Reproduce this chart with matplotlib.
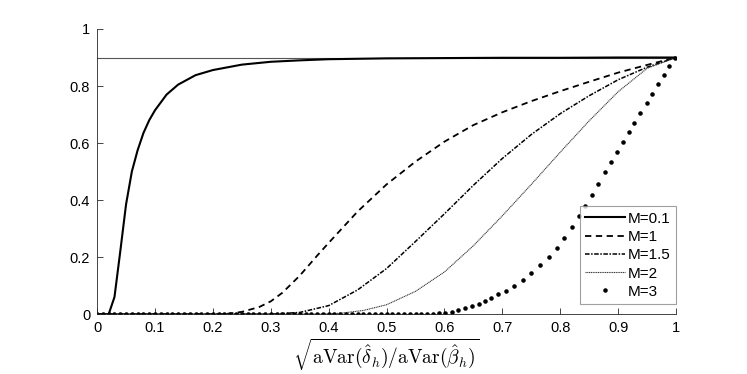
import numpy as np
import matplotlib.pyplot as plt

plt.rcParams['font.family'] = ['Liberation Sans', 'DejaVu Sans']
plt.rcParams['mathtext.fontset'] = 'cm'

# values
x_m01 = [0, 0.01, 0.02, 0.03, 0.04, 0.05, 0.06, 0.07, 0.08, 0.09, 0.10, 0.12, 0.14, 0.17,
         0.20, 0.25, 0.30, 0.35, 0.40, 0.50, 0.60, 0.70, 0.80, 0.90, 1.00]
y_m01 = [0, 0, 0, 0.06, 0.22, 0.385, 0.50, 0.575, 0.635, 0.68, 0.715, 0.77, 0.805, 0.838,
         0.856, 0.875, 0.885, 0.89, 0.894, 0.897, 0.898, 0.899, 0.899, 0.9, 0.9]

x_m1 = [0, 0.22, 0.25, 0.28, 0.30, 0.32, 0.35, 0.38, 0.40, 0.45, 0.50, 0.55, 0.60, 0.65,
        0.70, 0.75, 0.80, 0.85, 0.90, 0.95, 1.00]
y_m1 = [0, 0, 0.008, 0.025, 0.045, 0.075, 0.135, 0.205, 0.25, 0.36, 0.455, 0.535, 0.605,
        0.663, 0.708, 0.747, 0.782, 0.815, 0.847, 0.874, 0.9]

x_m15 = [0, 0.30, 0.35, 0.40, 0.45, 0.50, 0.55, 0.60, 0.65, 0.70, 0.75, 0.80, 0.85,
         0.90, 0.95, 1.00]
y_m15 = [0, 0, 0.006, 0.03, 0.085, 0.16, 0.255, 0.352, 0.452, 0.546, 0.63, 0.703, 0.766,
         0.822, 0.866, 0.9]

x_m2 = [0, 0.38, 0.42, 0.46, 0.50, 0.55, 0.60, 0.65, 0.70, 0.75, 0.80, 0.85, 0.90,
        0.95, 1.00]
y_m2 = [0, 0, 0.003, 0.013, 0.033, 0.08, 0.148, 0.24, 0.345, 0.455, 0.568, 0.678, 0.78,
        0.862, 0.9]

x_m3 = [0.00, 0.01, 0.02, 0.03, 0.04, 0.05, 0.06, 0.07, 0.08, 0.09,
        0.10, 0.11, 0.12, 0.13, 0.14, 0.15, 0.16, 0.17, 0.18, 0.19,
        0.20, 0.21, 0.22, 0.23, 0.24, 0.25, 0.26, 0.27, 0.28, 0.29,
        0.30, 0.31, 0.32, 0.33, 0.34, 0.35, 0.36, 0.37, 0.38, 0.39,
        0.40, 0.41, 0.42, 0.43, 0.44, 0.45, 0.46, 0.47, 0.48, 0.49,
        0.50, 0.51, 0.52, 0.53, 0.54, 0.55, 0.56, 0.57, 0.58, 0.59,
        0.601, 0.613, 0.624, 0.636, 0.647, 0.659, 0.670, 0.681, 0.693, 0.706,
        0.720, 0.735, 0.750, 0.765, 0.780, 0.794, 0.807, 0.820, 0.832, 0.843,
        0.854, 0.866, 0.877, 0.888, 0.898, 0.908, 0.918, 0.928, 0.938, 0.949,
        0.959, 0.968, 0.979, 0.988, 0.998]
y_m3 = [0] * 55 + [0.001, 0.001, 0.002, 0.002, 0.003,
        0.004, 0.008, 0.013, 0.020, 0.027, 0.036, 0.046, 0.057, 0.069, 0.082,
        0.099, 0.120, 0.145, 0.172, 0.200, 0.233, 0.267, 0.307, 0.345, 0.381,
        0.418, 0.458, 0.497, 0.535, 0.570, 0.605, 0.638, 0.672, 0.707, 0.740,
        0.772, 0.806, 0.839, 0.870, 0.900]

target = 0.9

fig = plt.figure(figsize=(7.47, 3.74), dpi=100)
ax = fig.add_axes([0.13, 0.16, 0.775, 0.7625])

ax.plot([0, 1], [target, target], color='#555555', linewidth=0.8)
ax.plot(x_m01, y_m01, color='black', linewidth=1.5, linestyle='-', label='M=0.1')
ax.plot(x_m1, y_m1, color='black', linewidth=1.3, linestyle=(0, (3.5, 2.5)), label='M=1')
ax.plot(x_m15, y_m15, color='black', linewidth=1.1, linestyle=(0, (3, 1, 1, 1)), label='M=1.5')
ax.plot(x_m2, y_m2, color='#333333', linewidth=0.8, linestyle=(0, (1, 0.6)), label='M=2')
ax.plot(x_m3, y_m3, color='black', linestyle='none', marker='.', markersize=4.5, label='M=3')

ax.set_xlim(0, 1)
ax.set_ylim(0, 1)
ax.set_xticks(np.linspace(0, 1, 11))
ax.set_xticklabels(['0', '0.1', '0.2', '0.3', '0.4', '0.5', '0.6', '0.7', '0.8', '0.9', '1'])
ax.set_yticks(np.linspace(0, 1, 6))
ax.set_yticklabels(['0', '0.2', '0.4', '0.6', '0.8', '1'])
ax.tick_params(direction='in', length=4, width=0.6, color='#262626', labelsize=10.5, pad=5)
for s in ['top', 'right']:
    ax.spines[s].set_visible(False)
for s in ['left', 'bottom']:
    ax.spines[s].set_color('#262626')
    ax.spines[s].set_linewidth(0.6)

ax.set_xlabel(r'$\sqrt{\mathrm{aVar}(\hat{\delta}_h)/\mathrm{aVar}(\hat{\beta}_h)}$', fontsize=14, labelpad=1)

leg = ax.legend(loc='lower right', bbox_to_anchor=(1.0, 0.035), fontsize=11, frameon=True,
                fancybox=False, edgecolor='#888888', handlelength=2.6, handletextpad=0.2,
                borderpad=0.35, labelspacing=0.28, borderaxespad=0)
leg.get_frame().set_linewidth(0.8)

fig.savefig('out.png', dpi=100)
